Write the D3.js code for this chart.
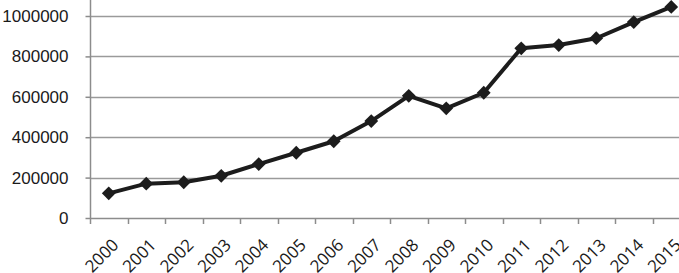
<!DOCTYPE html>
<html>
<head>
<meta charset="utf-8">
<script src="https://cdn.jsdelivr.net/npm/d3@7"></script>
<style>
  html, body { margin: 0; padding: 0; background: #fff; }
  svg { display: block; font-family: "Open Sans", Lato, sans-serif; }
</style>
</head>
<body>
<div id="chart"></div>
<script>
const years = ['2000','2001','2002','2003','2004','2005','2006','2007',
               '2008','2009','2010','2011','2012','2013','2014','2015'];
const values = [122000, 170000, 177000, 209000, 267000, 323000, 380000, 480000,
                605000, 543000, 620000, 840000, 856000, 890000, 970000, 1045000];
const yTicks = [0, 200000, 400000, 600000, 800000, 1000000];

const width = 679, height = 273;

const svg = d3.select('#chart').append('svg')
    .attr('width', width)
    .attr('height', height);

// plot area runs past the right edge, like the cropped original
const x = d3.scaleBand().domain(years).range([90, 690]);
const y = d3.scaleLinear().domain([0, 1000000]).range([218, 16]);

// gridlines
svg.append('g')
    .selectAll('line')
    .data(yTicks.filter(d => d > 0))
    .join('line')
    .attr('x1', 90).attr('x2', width)
    .attr('y1', d => Math.round(y(d)) + 0.5)
    .attr('y2', d => Math.round(y(d)) + 0.5)
    .attr('stroke', '#9a9a9a')
    .attr('stroke-width', 1.5);

// y axis
const yAxis = svg.append('g')
    .attr('transform', 'translate(90.5,0)')
    .call(d3.axisLeft(y).tickValues(yTicks).tickSize(5).tickSizeOuter(0).tickPadding(17).tickFormat(d3.format('d')));
yAxis.select('.domain').remove();
yAxis.selectAll('.tick line').attr('stroke', '#8c8c8c').attr('stroke-width', 1.5);
yAxis.selectAll('text').attr('font-size', 17).attr('fill', '#1a1a1a');
yAxis.append('line')
    .attr('x1', 0).attr('x2', 0).attr('y1', 0).attr('y2', y(0))
    .attr('stroke', '#8c8c8c').attr('stroke-width', 1.5);

// x axis baseline + ticks at band edges
const xg = svg.append('g');
xg.append('line')
    .attr('x1', 90).attr('x2', width)
    .attr('y1', Math.round(y(0)) + 0.5).attr('y2', Math.round(y(0)) + 0.5)
    .attr('stroke', '#8c8c8c').attr('stroke-width', 1.5);
xg.selectAll('line.tick')
    .data(years)
    .join('line')
    .attr('class', 'tick')
    .attr('x1', d => Math.round(x(d)) + 0.5)
    .attr('x2', d => Math.round(x(d)) + 0.5)
    .attr('y1', y(0)).attr('y2', y(0) + 6)
    .attr('stroke', '#8c8c8c').attr('stroke-width', 1.5);
xg.selectAll('text')
    .data(years)
    .join('text')
    .attr('text-anchor', 'end')
    .attr('font-size', 17)
    .attr('fill', '#1a1a1a')
    .attr('transform', d => `translate(${x(d) + x.bandwidth() / 2 + 11},${y(0) + 28}) rotate(-45)`)
    .text(d => d);

// series line
const cx = d => x(d) + x.bandwidth() / 2;
const line = d3.line()
    .x((d, i) => cx(years[i]))
    .y(d => y(d));

svg.append('path')
    .datum(values)
    .attr('fill', 'none')
    .attr('stroke', '#1c1c1c')
    .attr('stroke-width', 4)
    .attr('stroke-linejoin', 'round')
    .attr('d', line);

svg.append('g')
    .selectAll('path')
    .data(values)
    .join('path')
    .attr('d', d3.symbol().type(d3.symbolSquare).size(95))
    .attr('transform', (d, i) => `translate(${cx(years[i])},${y(d)}) rotate(45)`)
    .attr('fill', '#1c1c1c');
</script>
</body>
</html>
